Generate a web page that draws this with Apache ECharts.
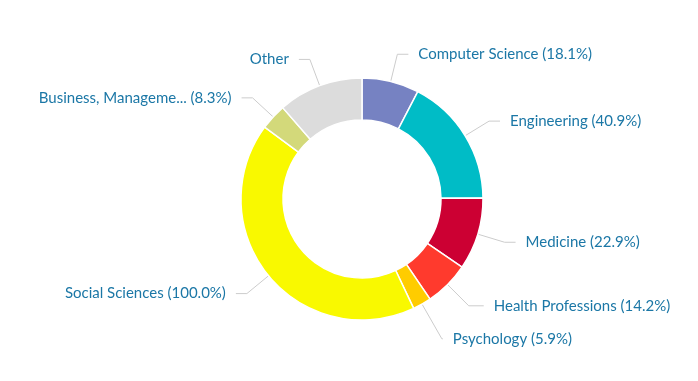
<!DOCTYPE html>
<html>
<head>
<meta charset="utf-8">
<script src="https://cdn.jsdelivr.net/npm/echarts@6/dist/echarts.min.js"></script>
<style>html,body{margin:0;padding:0;background:#fff}#c{width:698px;height:381px}</style>
</head>
<body>
<div id="c"></div>
<script>
var categories = ["Computer Science", "Engineering", "Medicine", "Health Professions", "Psychology", "Social Sciences", "Business, Manageme...", "Other"];
var values = [18.1, 40.9, 22.9, 14.2, 5.9, 100.0, 8.3, 27];
var showPct = [true, true, true, true, true, true, true, false];
var colors = ["#7682c2", "#00bcc6", "#cc0033", "#ff3a2d", "#ffcc00", "#f9f900", "#d3d97a", "#dcdcdc"];

var maxV = Math.max.apply(null, values);
var lineOverrides = { 3: { length: 30, length2: 15 }, 4: { length: 40, length2: 1 } };
var chart = echarts.init(document.getElementById('c'));
chart.setOption({
  animation: false,
  series: [{
    type: 'pie',
    center: ['362px', '199px'],
    radius: [79, 121],
    startAngle: 90,
    clockwise: true,
    itemStyle: { borderColor: '#fff', borderWidth: 1.5 },
    label: {
      show: true,
      color: '#1b77a6',
      fontFamily: 'Lato',
      fontSize: 15,
      distanceToLabelLine: 10,
      formatter: function (p) {
        return showPct[p.dataIndex] ? p.name + ' (' + (p.value / maxV * 100).toFixed(1) + '%)' : p.name;
      }
    },
    labelLine: { show: true, length: 28, length2: 11, lineStyle: { color: '#cccccc', width: 1 } },
    data: categories.map(function (n, i) {
      var d = { name: n, value: values[i], itemStyle: { color: colors[i] } };
      if (lineOverrides[i]) d.labelLine = lineOverrides[i];
      return d;
    })
  }]
});
</script>
</body>
</html>
